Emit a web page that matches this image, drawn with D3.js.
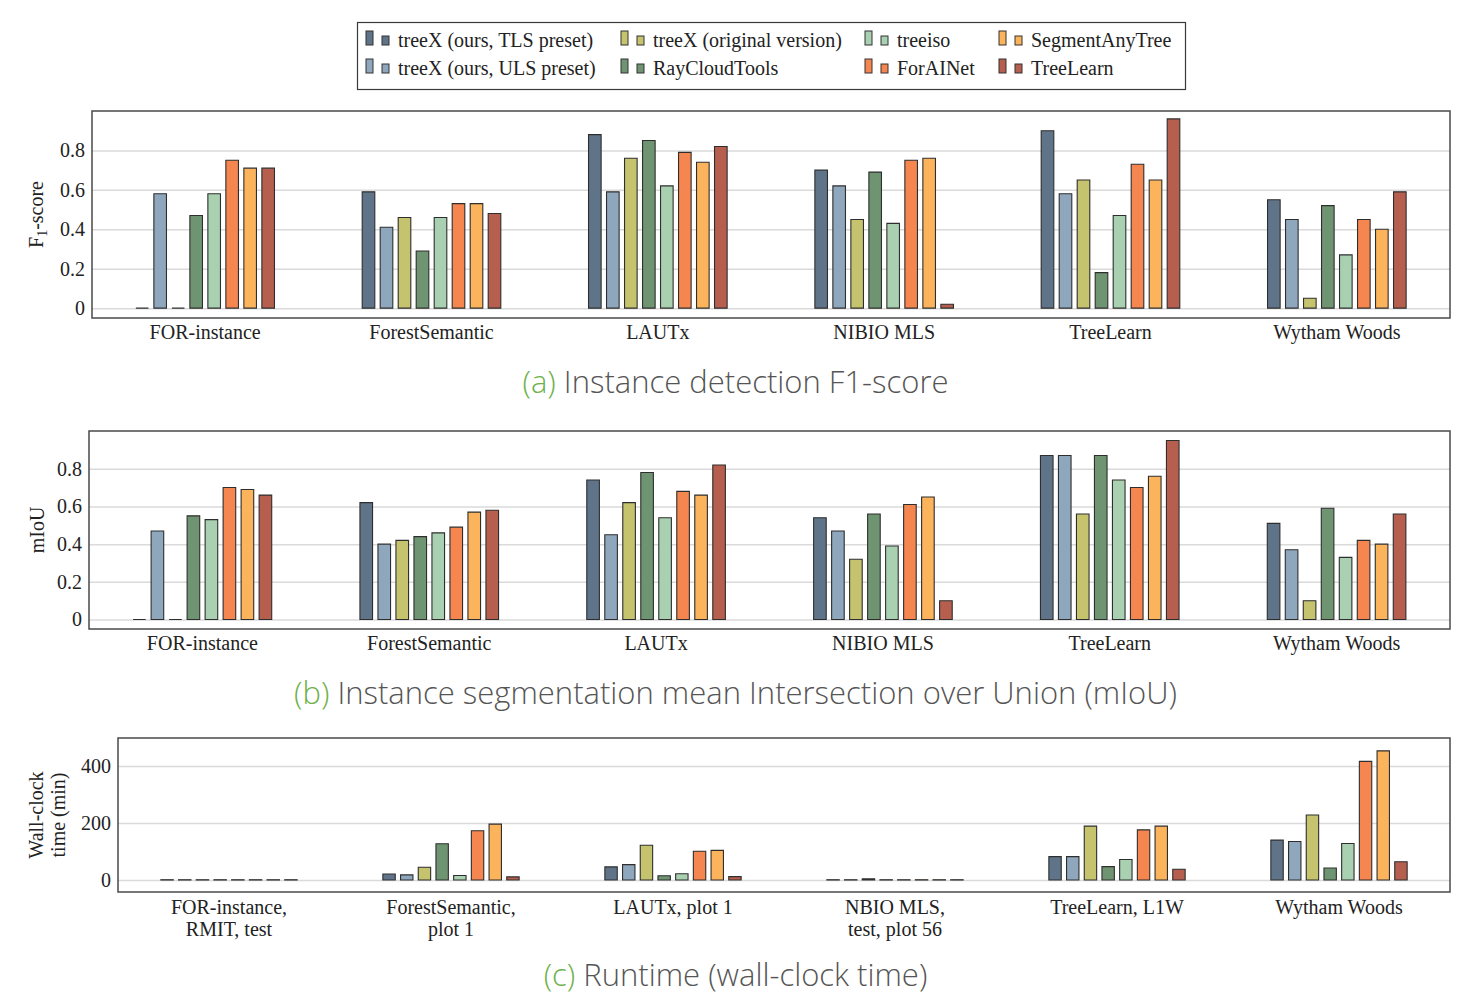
<!DOCTYPE html>
<html>
<head>
<meta charset="utf-8">
<script src="https://cdn.jsdelivr.net/npm/d3@7"></script>
<style>
  html, body { margin: 0; padding: 0; background: #fff; }
  svg { display: block; }
</style>
</head>
<body>
<script>
// Methods compared in every group (bar order within a group)
const series = [
  "treeX (ours, TLS preset)",
  "treeX (ours, ULS preset)",
  "treeX (original version)",
  "RayCloudTools",
  "treeiso",
  "ForAINet",
  "SegmentAnyTree",
  "TreeLearn"
];
const seriesColors = ["#5f7489", "#8fa7bd", "#c6c36f", "#6e9471", "#a9d1b1", "#f5864f", "#fbb45c", "#b65f4f"];

// Datasets
const categories = ["FOR-instance", "ForestSemantic", "LAUTx", "NIBIO MLS", "TreeLearn", "Wytham Woods"];
const runtimeCategories = [
  ["FOR-instance,", "RMIT, test"],
  ["ForestSemantic,", "plot 1"],
  ["LAUTx, plot 1"],
  ["NBIO MLS,", "test, plot 56"],
  ["TreeLearn, L1W"],
  ["Wytham Woods"]
];

// (a) instance detection F1-score, one row per dataset, one value per method
const f1Scores = [
  [0.00, 0.58, 0.00, 0.47, 0.58, 0.75, 0.71, 0.71],
  [0.59, 0.41, 0.46, 0.29, 0.46, 0.53, 0.53, 0.48],
  [0.88, 0.59, 0.76, 0.85, 0.62, 0.79, 0.74, 0.82],
  [0.70, 0.62, 0.45, 0.69, 0.43, 0.75, 0.76, 0.02],
  [0.90, 0.58, 0.65, 0.18, 0.47, 0.73, 0.65, 0.96],
  [0.55, 0.45, 0.05, 0.52, 0.27, 0.45, 0.40, 0.59]
];

// (b) instance segmentation mIoU
const miouScores = [
  [0.00, 0.47, 0.00, 0.55, 0.53, 0.70, 0.69, 0.66],
  [0.62, 0.40, 0.42, 0.44, 0.46, 0.49, 0.57, 0.58],
  [0.74, 0.45, 0.62, 0.78, 0.54, 0.68, 0.66, 0.82],
  [0.54, 0.47, 0.32, 0.56, 0.39, 0.61, 0.65, 0.10],
  [0.87, 0.87, 0.56, 0.87, 0.74, 0.70, 0.76, 0.95],
  [0.51, 0.37, 0.10, 0.59, 0.33, 0.42, 0.40, 0.56]
];

// (c) wall-clock runtime in minutes
const runtimeMinutes = [
  [1, 1, 1, 1, 1, 1, 1, 1],
  [21, 18, 45, 127, 16, 173, 196, 11],
  [46, 54, 122, 15, 22, 101, 104, 12],
  [1, 1, 4, 1, 1, 1, 1, 1],
  [82, 82, 189, 47, 72, 176, 189, 38],
  [140, 135, 228, 42, 128, 416, 453, 64]
];

const scoreTicks = [0, 0.2, 0.4, 0.6, 0.8];
const runtimeTicks = [0, 200, 400];

const W = 1468, H = 994;
const serif = "'Liberation Serif', 'Times New Roman', serif";
const sans = "'Open Sans', 'Noto Sans', sans-serif";

const svg = d3.select("body").append("svg")
  .attr("width", W).attr("height", H)
  .attr("viewBox", `0 0 ${W} ${H}`);

// ---------- legend ----------
const legend = svg.append("g").attr("class", "legend");
legend.append("rect")
  .attr("x", 357.5).attr("y", 22.5).attr("width", 828).attr("height", 67)
  .attr("fill", "#fff").attr("stroke", "#3a3a3a").attr("stroke-width", 1.2);

const legendCols = [366, 621, 865, 999];
const legendRows = [40, 68];
series.forEach((name, i) => {
  const sx = legendCols[Math.floor(i / 2)];
  const cy = legendRows[i % 2];
  const g = legend.append("g");
  g.append("rect").attr("x", sx).attr("y", cy - 9).attr("width", 7).attr("height", 14)
    .attr("fill", seriesColors[i]).attr("stroke", "#333").attr("stroke-width", 1);
  g.append("rect").attr("x", sx + 16).attr("y", cy - 4).attr("width", 7).attr("height", 9)
    .attr("fill", seriesColors[i]).attr("stroke", "#333").attr("stroke-width", 1);
  g.append("text").attr("x", sx + 32).attr("y", cy + 7)
    .attr("font-family", serif).attr("font-size", 20).attr("fill", "#222")
    .text(name);
});

// ---------- grouped bar panel ----------
function barPanel(opt) {
  const g = svg.append("g");
  const y = d3.scaleLinear().domain(opt.domain).range([opt.bottom, opt.top]);
  const x0 = d3.scaleBand().domain(d3.range(opt.values.length)).range([opt.left, opt.right]);
  const pitch = opt.pitch;
  const x1 = d3.scaleBand().domain(d3.range(series.length))
    .range([0, pitch * series.length]).paddingInner(0.3).paddingOuter(0.15);
  const offset = (x0.bandwidth() - pitch * series.length) / 2;

  // horizontal grid + tick labels
  const axis = g.append("g")
    .attr("transform", `translate(${opt.left},0)`)
    .call(d3.axisLeft(y).tickValues(opt.ticks).tickSize(-(opt.right - opt.left))
      .tickPadding(7).tickFormat(d => String(d)));
  axis.select(".domain").remove();
  axis.selectAll(".tick line").attr("stroke", "#dadada").attr("stroke-width", 1.5);
  axis.selectAll(".tick text").attr("font-family", serif).attr("font-size", 20).attr("fill", "#222");

  // bars (path so that zero-height bars still show their outline)
  const groups = g.append("g").selectAll("g").data(opt.values).join("g")
    .attr("transform", (d, i) => `translate(${x0(i) + offset},0)`);
  groups.selectAll("path").data(d => d.map((v, j) => ({ v, j }))).join("path")
    .attr("d", d => {
      const xa = x1(d.j), xb = xa + x1.bandwidth();
      const y0 = y(0), y1 = y(d.v);
      return `M${xa},${y0}V${y1}H${xb}V${y0}Z`;
    })
    .attr("fill", d => seriesColors[d.j])
    .attr("stroke", "#2e2e2e").attr("stroke-width", 1.1)
    .attr("stroke-linejoin", "miter");

  // frame
  g.append("rect")
    .attr("x", opt.left).attr("y", opt.top)
    .attr("width", opt.right - opt.left).attr("height", opt.bottom - opt.top)
    .attr("fill", "none").attr("stroke", "#4a4a4a").attr("stroke-width", 1.5);

  // category labels
  opt.labels.forEach((lines, i) => {
    const cx = x0(i) + x0.bandwidth() / 2;
    const t = g.append("text").attr("text-anchor", "middle")
      .attr("font-family", serif).attr("font-size", 20).attr("fill", "#222");
    [].concat(lines).forEach((line, k) => {
      t.append("tspan").attr("x", cx).attr("y", opt.bottom + opt.labelGap + k * 22).text(line);
    });
  });

  // y-axis title
  const cyTitle = (opt.top + opt.bottom) / 2;
  opt.title(g, cyTitle);

  // caption below the panel
  const cap = svg.append("text").attr("x", 735.5).attr("y", opt.captionY)
    .attr("text-anchor", "middle").attr("font-family", sans).attr("font-weight", 300)
    .attr("font-size", 31).attr("fill", "#555");
  cap.append("tspan").attr("fill", "#6db14b").text(opt.captionTag);
  cap.append("tspan").text(" " + opt.caption);
}

// (a)
barPanel({
  left: 92, right: 1450, top: 111, bottom: 318,
  domain: [-0.05, 1.0], ticks: scoreTicks, values: f1Scores, pitch: 18,
  labels: categories, labelGap: 21,
  title: (g, cy) => {
    const t = g.append("text").attr("transform", `translate(43,${cy}) rotate(-90)`)
      .attr("text-anchor", "middle").attr("font-family", serif).attr("font-size", 20).attr("fill", "#222");
    t.append("tspan").text("F");
    t.append("tspan").attr("font-size", 14).attr("dy", 4).text("1");
    t.append("tspan").attr("dy", -4).text("-score");
  },
  captionTag: "(a)", caption: "Instance detection F1-score", captionY: 393
});

// (b)
barPanel({
  left: 89, right: 1450, top: 431, bottom: 629,
  domain: [-0.05, 1.0], ticks: scoreTicks, values: miouScores, pitch: 18,
  labels: categories, labelGap: 21,
  title: (g, cy) => {
    g.append("text").attr("transform", `translate(44,${cy}) rotate(-90)`)
      .attr("text-anchor", "middle").attr("font-family", serif).attr("font-size", 20).attr("fill", "#222")
      .text("mIoU");
  },
  captionTag: "(b)", caption: "Instance segmentation mean Intersection over Union (mIoU)", captionY: 704
});

// (c)
barPanel({
  left: 118, right: 1450, top: 738, bottom: 892,
  domain: [-42, 498], ticks: runtimeTicks, values: runtimeMinutes, pitch: 17.7,
  labels: runtimeCategories, labelGap: 22,
  title: (g, cy) => {
    const t = g.append("text").attr("transform", `translate(0,${cy}) rotate(-90)`)
      .attr("text-anchor", "middle").attr("font-family", serif).attr("font-size", 20).attr("fill", "#222");
    t.append("tspan").attr("x", 0).attr("y", 43).text("Wall-clock");
    t.append("tspan").attr("x", 0).attr("y", 65).text("time (min)");
  },
  captionTag: "(c)", caption: "Runtime (wall-clock time)", captionY: 986
});
</script>
</body>
</html>
